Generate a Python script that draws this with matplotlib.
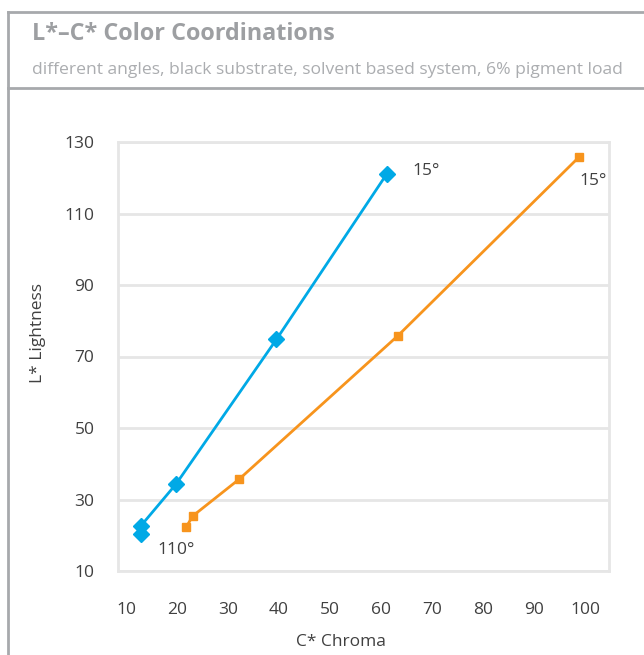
import matplotlib
matplotlib.use('Agg')
import matplotlib.pyplot as plt

plt.rcParams['font.family'] = ['Open Sans', 'DejaVu Sans']

# valores
azul_c = [12.9, 12.9, 19.8, 39.5, 61.1]
azul_l = [20.4, 22.6, 34.3, 74.8, 121.0]
laranja_c = [21.8, 23.1, 32.2, 63.3, 98.9]
laranja_l = [22.3, 25.4, 35.7, 75.8, 125.9]
ticks_x = [10, 20, 30, 40, 50, 60, 70, 80, 90, 100]
ticks_y = [10, 30, 50, 70, 90, 110, 130]

azul = '#00A9E6'
laranja = '#F7941D'
cinza = '#A7A9AC'
grade = '#E6E6E6'
texto = '#404040'

fig = plt.figure(figsize=(6.44, 6.55), dpi=100)

# moldura externa
fig.add_artist(plt.Line2D([8/644, 8/644], [0, 1 - 12/655], color=cinza, lw=2, transform=fig.transFigure))
fig.add_artist(plt.Line2D([8/644, 1], [1 - 12/655, 1 - 12/655], color=cinza, lw=2, transform=fig.transFigure))
fig.add_artist(plt.Line2D([8/644, 1], [1 - 88/655, 1 - 88/655], color=cinza, lw=2, transform=fig.transFigure))

fig.text(32/644, 1 - 34/655, 'L*–C* Color Coordinations', fontsize=16.8, fontweight='bold',
         color='#9D9FA2', va='center', ha='left')
fig.text(32/644, 1 - 70/655, 'different angles, black substrate, solvent based system, 6% pigment load',
         fontsize=12.6, color='#ABADB0', va='center', ha='left')

ax = fig.add_axes([118/644, 1 - 571/655, 491/644, 429/655])
ax.plot(azul_c, azul_l, color=azul, lw=2, marker='D', ms=8, mec=azul, mfc=azul)
ax.plot(laranja_c, laranja_l, color=laranja, lw=2, marker='s', ms=6, mec=laranja, mfc=laranja)

ax.set_xlim(8.43, 104.7)
ax.set_ylim(10, 130)
ax.set_xticks(ticks_x)
ax.set_yticks(ticks_y)
ax.tick_params(length=0, labelsize=12.5, colors=texto, pad=0)
ax.tick_params(axis='x', pad=22)
ax.tick_params(axis='y', pad=17)
ax.grid(axis='y', color=grade, lw=2)
ax.set_axisbelow(True)
for s in ax.spines.values():
    s.set_color(grade)
    s.set_linewidth(2)

ax.text(68.8, 122, '15°', fontsize=12.5, color=texto, va='center', ha='center')
ax.text(101.5, 119.2, '15°', fontsize=12.5, color=texto, va='center', ha='center')
ax.text(19.8, 16.0, '110°', fontsize=12.5, color=texto, va='center', ha='center')

fig.text(38/644, 1 - 333/655, 'L* Lightness', rotation=90, fontsize=12.5, color=texto, va='center', ha='center')
fig.text(341/644, 1 - 642/655, 'C* Chroma', fontsize=12.5, color=texto, va='center', ha='center')

plt.savefig('out.png', dpi=100)
